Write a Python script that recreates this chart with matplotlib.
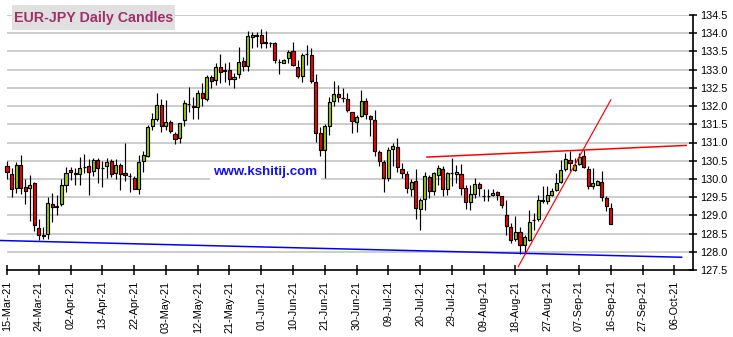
import numpy as np
import pandas as pd
import matplotlib
matplotlib.use("Agg")
import matplotlib.pyplot as plt
from matplotlib.patches import Rectangle

plt.rcParams['font.family'] = ['Liberation Sans', 'DejaVu Sans']

# daily EUR-JPY candles, one per weekday from 15-Mar-21
start_date = "2021-03-15"
opens = [130.35, 130.14, 129.75, 130.39, 129.78, 129.75, 129.89, 128.66, 128.47, 128.50,
         129.30, 129.24, 129.31, 129.83, 130.25, 130.15, 130.14, 130.33, 130.36, 130.22,
         130.52, 130.31, 130.35, 130.49, 130.15, 130.37, 130.16, 130.09, 130.03, 129.73,
         130.49, 130.62, 131.46, 131.65, 132.03, 131.44, 131.55, 131.23, 131.12, 131.63,
         132.06, 132.00, 131.97, 132.36, 132.19, 132.79, 132.72, 133.07, 132.98, 132.98,
         132.74, 132.89, 133.24, 133.09, 133.90, 133.93, 133.95, 133.75, 133.73, 133.73,
         133.22, 133.18, 133.32, 133.50, 133.07, 132.83, 133.43, 133.41, 132.66, 131.26,
         130.80, 131.44, 132.13, 132.34, 132.22, 132.19, 131.83, 131.55, 131.74, 132.15,
         131.72, 131.63, 130.74, 130.47, 130.03, 130.83, 130.89, 130.27, 130.14, 129.71,
         129.95, 129.18, 129.45, 130.05, 129.66, 130.12, 130.26, 129.71, 130.15, 130.14,
         130.14, 129.75, 129.37, 129.60, 129.87, 129.53, 129.53, 129.55, 129.64, 129.53,
         129.02, 128.68, 128.34, 128.55, 128.18, 128.32, 128.87, 128.90, 129.41, 129.39,
         129.55, 129.69, 129.91, 130.26, 130.53, 130.24, 130.41, 130.62, 130.28, 129.80,
         129.83, 129.92, 129.48, 129.19]
highs = [130.48, 130.30, 130.47, 130.67, 130.00, 130.12, 129.92, 128.90, 128.69, 129.50,
         129.62, 129.57, 130.00, 130.32, 130.32, 130.30, 130.59, 130.68, 130.55, 130.57,
         130.58, 130.48, 130.58, 130.55, 130.55, 130.43, 130.99, 130.15, 130.07, 130.65,
         130.78, 131.48, 131.80, 132.37, 132.20, 132.18, 131.62, 131.30, 131.53, 132.17,
         132.51, 132.24, 132.45, 132.63, 132.86, 132.86, 133.18, 133.43, 133.18, 133.20,
         132.90, 133.62, 133.36, 134.06, 134.02, 134.02, 134.11, 134.05, 133.77, 133.77,
         133.29, 133.29, 133.54, 133.75, 133.27, 133.45, 133.68, 133.59, 132.88, 131.42,
         131.52, 132.25, 132.69, 132.58, 132.49, 132.37, 131.85, 131.76, 132.45, 132.22,
         131.76, 131.88, 130.80, 130.53, 130.89, 131.00, 131.11, 130.44, 130.21, 130.00,
         130.28, 129.48, 130.18, 130.10, 130.18, 130.37, 130.35, 130.19, 130.58, 130.39,
         130.42, 129.82, 129.84, 130.03, 129.91, 129.73, 129.71, 129.73, 129.68, 129.53,
         129.43, 128.79, 128.98, 128.68, 128.47, 129.14, 129.07, 129.55, 129.80, 129.80,
         129.75, 130.16, 130.51, 130.71, 130.76, 130.58, 130.71, 130.80, 130.35, 130.30,
         129.96, 130.21, 129.53, 129.34]
lows = [130.00, 129.50, 129.62, 129.60, 129.32, 128.84, 128.58, 128.32, 128.34, 128.34,
        128.82, 129.02, 129.25, 129.63, 129.98, 129.83, 129.82, 130.16, 129.55, 130.07,
        129.89, 129.77, 130.03, 130.05, 130.00, 129.69, 129.95, 129.63, 129.71, 129.60,
        130.20, 130.60, 131.35, 131.58, 131.30, 131.35, 131.26, 130.96, 131.00, 131.46,
        131.85, 131.64, 131.64, 132.00, 132.14, 132.49, 132.58, 132.63, 132.65, 132.58,
        132.50, 132.77, 132.95, 132.95, 133.59, 133.63, 133.59, 133.59, 133.62, 133.18,
        132.88, 133.18, 133.18, 133.09, 132.77, 132.65, 133.13, 132.63, 131.01, 130.62,
        130.02, 131.21, 131.99, 132.10, 132.10, 131.85, 131.26, 131.28, 131.69, 131.64,
        131.17, 130.62, 130.35, 129.63, 129.94, 130.35, 130.18, 130.03, 129.62, 129.54,
        128.90, 128.59, 129.14, 129.48, 129.57, 129.84, 129.54, 129.57, 129.80, 129.89,
        129.57, 129.18, 129.14, 129.48, 129.54, 129.39, 129.39, 129.53, 129.43, 129.21,
        128.47, 128.23, 128.29, 127.95, 127.93, 128.29, 128.59, 128.84, 129.34, 129.32,
        129.53, 129.68, 129.89, 130.21, 130.21, 130.21, 130.37, 130.30, 129.71, 129.71,
        129.83, 129.39, 129.11, 128.77]
closes = [130.19, 129.73, 130.39, 129.75, 129.66, 129.84, 128.73, 128.46, 128.44, 129.34,
          129.23, 129.24, 129.82, 130.17, 130.18, 130.14, 130.30, 130.34, 130.18, 130.52,
          130.30, 130.30, 130.47, 130.14, 130.38, 130.13, 130.11, 130.08, 129.73, 130.47,
          130.66, 131.42, 131.64, 132.03, 131.44, 131.55, 131.31, 131.10, 131.53, 132.08,
          132.07, 131.97, 132.36, 132.22, 132.79, 132.69, 133.07, 132.93, 132.97, 132.74,
          132.80, 133.21, 133.09, 133.93, 133.95, 133.96, 133.73, 133.74, 133.72, 133.27,
          133.21, 133.27, 133.48, 133.13, 132.83, 133.41, 133.42, 132.70, 131.26, 130.80,
          131.44, 132.11, 132.34, 132.26, 132.21, 131.88, 131.60, 131.69, 132.15, 131.78,
          131.64, 130.78, 130.50, 130.03, 130.80, 130.91, 130.32, 130.15, 129.75, 129.92,
          129.21, 129.42, 130.09, 129.66, 130.15, 130.30, 129.73, 130.16, 130.15, 130.19,
          129.75, 129.37, 129.60, 129.87, 129.75, 129.52, 129.53, 129.62, 129.55, 129.28,
          128.70, 128.32, 128.55, 128.18, 128.41, 128.82, 128.86, 129.42, 129.40, 129.57,
          129.68, 129.89, 130.24, 130.55, 130.44, 130.39, 130.60, 130.32, 129.80, 129.89,
          129.94, 129.50, 129.25, 128.77]

# trend lines drawn on the chart: (bar index, price) end points
blue_line = ([-1.5, 148.6], [128.31, 127.85])
red_flat = ([92.5, 149.6], [130.60, 130.92])
red_steep = ([112.6, 133.0], [127.59, 132.17])

O = np.array(opens)
H = np.array(highs)
L = np.array(lows)
C = np.array(closes)
idx = np.arange(len(O))

x_max = 151.1
n_days = 149
dates = pd.bdate_range(start_date, periods=n_days)
tick_pos = np.arange(0, n_days, 7)
tick_lab = [dates[i].strftime("%d-%b-%y") for i in tick_pos]

fig = plt.figure(figsize=(7.33, 3.37), dpi=100)
ax = fig.add_axes([0, 67 / 337, 693 / 733, 255 / 337])

ax.set_xlim(-1.54, x_max)
ax.set_ylim(127.5, 134.5)

# grid lines start at the first bar, not at the axes edge
levels = np.arange(128.0, 134.51, 0.5)
ax.hlines(levels, 0, x_max, color="#c0c0c0", lw=1.1, zorder=0)

ax.text(45.4, 130.11, "www.kshitij.com", color="#1414e6", fontsize=9.6,
        fontweight="bold", va="baseline", ha="left", zorder=1,
        bbox=dict(facecolor="white", edgecolor="none", pad=2.4))

green = "#99cc00"
red = "#ff0000"
cols = np.where(C >= O, green, red)
ax.vlines(idx, L, H, color="black", lw=0.85, zorder=3)
ax.bar(idx, np.maximum(np.abs(C - O), 0.004), bottom=np.minimum(O, C), width=0.68,
       color=cols, edgecolor="black", lw=0.85, zorder=4)

ax.plot(*blue_line, color="#0000ff", lw=1.1, zorder=5, clip_on=False)
ax.plot(*red_flat, color="#ff0000", lw=1.1, zorder=5)
ax.plot(*red_steep, color="#ff0000", lw=0.85, zorder=5)

for s in ["top", "left"]:
    ax.spines[s].set_visible(False)
ax.spines["bottom"].set_bounds(0, x_max)
ax.spines["right"].set_linewidth(1.2)
ax.spines["bottom"].set_linewidth(1.2)

ax.yaxis.tick_right()
ax.set_yticks(np.arange(127.5, 134.51, 0.5))
ax.set_yticklabels(["%.1f" % v for v in np.arange(127.5, 134.51, 0.5)])
ax.tick_params(axis="y", direction="inout", length=6, width=1.1, labelsize=7.8, pad=2)

ax.set_xticks(tick_pos)
ax.set_xticklabels(tick_lab, rotation=90)
ax.tick_params(axis="x", direction="inout", length=7, width=1.1, labelsize=7.8, pad=4)

# title box
fig.add_artist(Rectangle((12 / 733, 1 - 30 / 337), 163 / 733, 25 / 337,
                         transform=fig.transFigure, facecolor="#e0e0e0",
                         edgecolor="none", zorder=5))
fig.text(14 / 733, 1 - 22 / 337, "EUR-JPY Daily Candles", color="#a0306a",
         fontsize=10.3, fontweight="bold", va="baseline", ha="left", zorder=6)

fig.savefig("out.png", dpi=100)
